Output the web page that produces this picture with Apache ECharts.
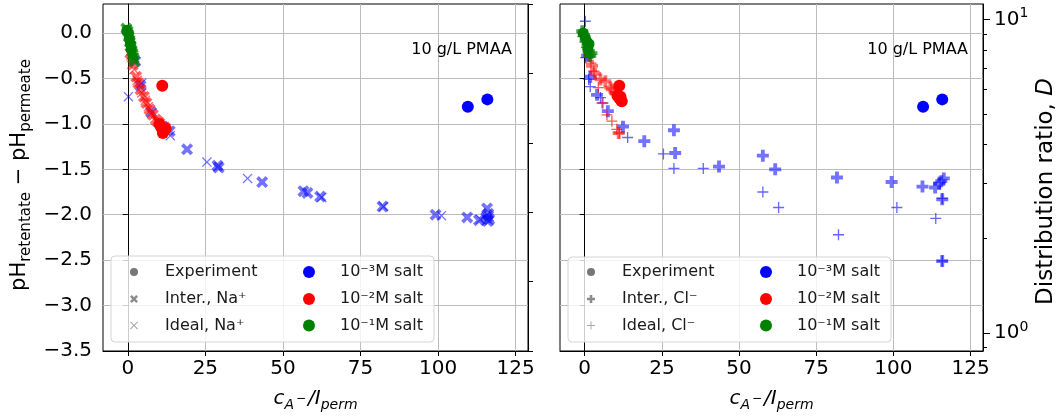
<!DOCTYPE html>
<html>
<head>
<meta charset="utf-8">
<script src="https://cdn.jsdelivr.net/npm/echarts@6/dist/echarts.min.js"></script>
<style>
  html, body { margin: 0; padding: 0; background: #fff; }
  #chart { width: 1062px; height: 417px; }
</style>
</head>
<body>
<div id="chart"></div>
<script>
// tick labels
const xTicks = [0, 25, 50, 75, 100, 125]
const yTicks = [-3.5, -3, -2.5, -2, -1.5, -1, -0.5, 0]
const dMajor = [1, 10]
const dAll = [0.9, 1, 2, 3, 4, 5, 6, 7, 8, 9, 10]

// left panel: pH difference vs c_A-/I_perm  ([x, y])
const leftExpBlue = [[109.6, -0.81], [115.9, -0.73]]
const leftInterBlue = [[2.4, -0.31], [4.1, -0.58], [7.5, -0.87], [11.3, -1.03], [13.5, -1.08], [19.1, -1.28], [28.9, -1.46], [29.3, -1.48], [43.3, -1.64], [56.6, -1.74], [57.9, -1.76], [62.0, -1.80], [82.1, -1.91], [99.2, -2.0], [109.4, -2.03], [113.2, -2.06], [115.8, -1.93], [116.2, -1.99], [115.5, -2.03], [116.5, -2.05], [116.0, -2.07]]
const leftIdealBlue = [[0.2, -0.70], [4.5, -0.55], [13.7, -1.13], [25.5, -1.42], [38.6, -1.60], [62.5, -1.81], [82.4, -1.91], [101.1, -2.01], [113.7, -2.05], [116.5, -2.02]]
const leftExpRed = [[11.1, -0.58], [10.2, -1.0], [10.8, -1.04], [11.5, -1.07], [12.2, -1.05], [11.3, -1.1]]
const leftInterRed = [[0.8, -0.22], [1.6, -0.35], [2.7, -0.48], [3.4, -0.55], [4.1, -0.62], [5.2, -0.70], [6.0, -0.77], [7.0, -0.84], [8.1, -0.90], [9.2, -0.96], [10.2, -0.99], [11.9, -1.04]]
const leftIdealRed = [[1.0, -0.25], [2.0, -0.40], [3.0, -0.52], [4.5, -0.66], [5.6, -0.74], [6.6, -0.81], [7.6, -0.88], [8.7, -0.94], [9.7, -0.98], [10.8, -1.02], [12.3, -1.08]]
const leftExpGreen = [[-0.3, 0.03], [0.2, 0.0], [0.5, -0.06], [0.8, -0.12], [1.1, -0.18]]
const leftInterGreen = [[-0.5, 0.05], [0, 0.02], [0.3, -0.04], [0.7, -0.10], [1.0, -0.15], [1.3, -0.2], [1.6, -0.24], [1.9, -0.28], [2.1, -0.31]]
const leftIdealGreen = [[-0.2, 0.04], [0.4, -0.02], [0.9, -0.08], [1.2, -0.14], [1.5, -0.19], [1.8, -0.23], [2.0, -0.27]]

// right panel
const rightExpBlue = [[109.6, -0.81], [115.8, -0.73]]
const rightInterBlue = [[0.8, -0.25], [1.8, -0.48], [4.0, -0.68], [7.5, -0.86], [12.4, -1.03], [19.3, -1.19], [28.9, -1.07], [29.3, -1.32], [43.5, -1.47], [57.7, -1.35], [61.7, -1.50], [81.7, -1.59], [99.4, -1.64], [109.4, -1.69], [113.5, -1.70], [114.8, -1.66], [115.5, -1.63], [116.3, -1.60], [115.8, -1.83], [115.8, -2.51]]
const rightIdealBlue = [[0.2, 0.13], [0.3, -0.27], [1.3, -0.51], [1.8, -0.59], [5.1, -0.71], [5.9, -0.77], [13.9, -1.15], [25.5, -1.33], [28.9, -1.49], [38.4, -1.49], [57.7, -1.75], [62.8, -1.92], [82.2, -2.22], [101.1, -1.92], [113.7, -2.04], [115.8, -1.82], [115.8, -2.51]]
const rightExpRed = [[11.2, -0.58], [10.6, -0.69], [11.3, -0.72], [12.0, -0.75], [11.6, -0.70]]
const rightInterRed = [[1.4, -0.25], [2.4, -0.36], [3.4, -0.45], [5.1, -0.51], [6.7, -0.53], [8.3, -0.60], [8.8, -0.62], [9.9, -0.66], [11.0, -1.10]]
const rightIdealRed = [[2.0, -0.33], [3.0, -0.42], [4.4, -0.60], [5.6, -0.77], [7.2, -0.90], [8.8, -0.97], [10.4, -1.06], [11.2, -1.10]]
const rightExpGreen = [[-0.5, 0.0], [0.2, -0.05], [0.8, -0.1], [1.4, -0.12], [1.0, -0.18]]
const rightInterGreen = [[-0.8, 0.02], [-0.3, -0.02], [0.3, -0.08], [0.9, -0.14], [1.4, -0.2], [1.8, -0.25], [2.2, -0.22]]
const rightIdealGreen = [[-0.6, -0.04], [0.1, -0.1], [0.6, -0.16], [1.1, -0.22], [1.6, -0.26]]

const font = 'DejaVu Sans'
const BLUE = '#0000ff'
const RED = '#ff0000'
const GREEN = '#008000'
const GRID = '#bcbcbc'

// marker outlines in a 10x10 box (matplotlib X, x, P, +)
const thickX = [[0, 2.2], [2.2, 0], [5, 2.8], [7.8, 0], [10, 2.2], [7.2, 5], [10, 7.8], [7.8, 10], [5, 7.2], [2.2, 10], [0, 7.8], [2.8, 5]]
const thinX = [[0, 0.9], [0.9, 0], [5, 4.1], [9.1, 0], [10, 0.9], [5.9, 5], [10, 9.1], [9.1, 10], [5, 5.9], [0.9, 10], [0, 9.1], [4.1, 5]]
const thickP = [[3.4, 0], [6.6, 0], [6.6, 3.4], [10, 3.4], [10, 6.6], [6.6, 6.6], [6.6, 10], [3.4, 10], [3.4, 6.6], [0, 6.6], [0, 3.4], [3.4, 3.4]]
const thinP = [[4.4, 0], [5.6, 0], [5.6, 4.4], [10, 4.4], [10, 5.6], [5.6, 5.6], [5.6, 10], [4.4, 10], [4.4, 5.6], [0, 5.6], [0, 4.4], [4.4, 4.4]]

const toSymbol = (pts) => 'path://M' + pts.map((p) => p[0] + ',' + p[1]).join(' L') + ' Z'

const scatter = (data, xIndex, yIndex, symbol, size, color, opacity) => ({
  type: 'scatter',
  xAxisIndex: xIndex,
  yAxisIndex: yIndex,
  data,
  symbol,
  symbolSize: size,
  itemStyle: { color, opacity },
  silent: true,
})

const fmtY = (v) => (v === 0 ? '0.0' : v.toFixed(1).replace('-', '\u2212'))

const xAxisOf = (gridIndex) => ({
  type: 'value',
  gridIndex,
  min: -8,
  max: 129,
  axisLine: { show: true, onZero: false, lineStyle: { color: '#000', width: 1 } },
  axisTick: { show: true, length: 5, customValues: xTicks, lineStyle: { color: '#000' } },
  axisLabel: { customValues: xTicks, fontSize: 20, color: '#000', fontFamily: font, margin: 8 },
  splitLine: { show: true, lineStyle: { color: GRID, width: 1 } },
  name: '{i|c}{s|A}{t|\u2212}{i|/I}{s|perm}',
  nameLocation: 'middle',
  nameGap: 35,
  nameTextStyle: {
    color: '#000',
    fontFamily: font,
    rich: {
      i: { fontSize: 20, fontStyle: 'italic', fontFamily: font, lineHeight: 26, color: '#000' },
      s: { fontSize: 14, fontStyle: 'italic', fontFamily: font, lineHeight: 12, verticalAlign: 'bottom', color: '#000' },
      t: { fontSize: 12, fontFamily: font, lineHeight: 26, color: '#000', padding: [0, 2, 0, 2] },
    },
  },
})

const option = {
  animation: false,
  backgroundColor: '#fff',
  grid: [
    { left: 103, top: 4, width: 425, height: 347, show: true, borderColor: '#000', borderWidth: 1 },
    { left: 560, top: 4, width: 423, height: 347, show: true, borderColor: '#000', borderWidth: 1 },
  ],
  xAxis: [xAxisOf(0), xAxisOf(1)],
  yAxis: [
    {
      type: 'value',
      gridIndex: 0,
      min: -3.5,
      max: 0.32,
      position: 'left',
      axisLine: { show: true, lineStyle: { color: '#000' } },
      axisTick: { show: true, length: 5, customValues: yTicks, lineStyle: { color: '#000' } },
      axisLabel: { customValues: yTicks, formatter: fmtY, fontSize: 20, color: '#000', fontFamily: font, margin: 11 },
      splitLine: { show: true, lineStyle: { color: GRID, width: 1 } },
      name: '{m|pH}{s|retentate}{m| \u2212 pH}{s|permeate}',
      nameLocation: 'middle',
      nameGap: 69,
      nameTextStyle: {
        color: '#000',
        padding: [0, 0, 0, 5],
        rich: {
          m: { fontSize: 21, fontFamily: font, lineHeight: 28, color: '#000' },
          s: { fontSize: 15, fontFamily: font, lineHeight: 12, verticalAlign: 'bottom', color: '#000' },
        },
      },
    },
    {
      // twin axis of the left panel, ticks only
      type: 'value',
      gridIndex: 0,
      min: 0,
      max: 5,
      interval: 1,
      position: 'right',
      axisLine: { show: true, lineStyle: { color: '#000' } },
      axisTick: { show: true, length: 5, lineStyle: { color: '#000' } },
      axisLabel: { show: false },
      splitLine: { show: false },
    },
    {
      type: 'value',
      gridIndex: 1,
      min: -3.5,
      max: 0.32,
      position: 'left',
      axisLine: { show: true, lineStyle: { color: '#000' } },
      axisTick: { show: true, length: 5, customValues: yTicks, lineStyle: { color: '#000' } },
      axisLabel: { show: false, customValues: yTicks },
      splitLine: { show: true, lineStyle: { color: GRID, width: 1 } },
    },
    {
      type: 'log',
      gridIndex: 1,
      min: 0.877,
      max: 11.2,
      position: 'right',
      axisLine: { show: true, lineStyle: { color: '#000' } },
      axisTick: { show: true, length: 4, customValues: dAll, lineStyle: { color: '#000' } },
      axisLabel: {
        customValues: dMajor,
        margin: 11,
        formatter: (v) => '{b|10}{p|' + (v >= 5 ? '1' : '0') + '}',
        rich: {
          b: { fontSize: 20, fontFamily: font, lineHeight: 26, color: '#000' },
          p: { fontSize: 14, fontFamily: font, lineHeight: 14, verticalAlign: 'top', color: '#000' },
        },
      },
      splitLine: { show: false },
      name: '{n|Distribution ratio, }{d|D}',
      nameLocation: 'middle',
      nameRotate: 90,
      nameGap: 52,
      nameTextStyle: {
        padding: [0, 28, 0, 0],
        rich: {
          n: { fontSize: 23, fontFamily: font, color: '#000' },
          d: { fontSize: 23, fontFamily: font, fontStyle: 'italic', color: '#000' },
        },
      },
    },
    {
      type: 'log',
      gridIndex: 1,
      min: 0.877,
      max: 11.2,
      position: 'right',
      axisLine: { show: false },
      axisTick: { show: true, length: 7, customValues: dMajor, lineStyle: { color: '#000' } },
      axisLabel: { show: false, customValues: dMajor },
      splitLine: { show: false },
    },
  ],
  series: [
    scatter(leftIdealBlue, 0, 0, toSymbol(thinX), 10, BLUE, 0.55),
    scatter(leftInterBlue, 0, 0, toSymbol(thickX), 12, BLUE, 0.55),
    scatter(leftExpBlue, 0, 0, 'circle', 12, BLUE, 1),
    scatter(leftIdealRed, 0, 0, toSymbol(thinX), 10, RED, 0.6),
    scatter(leftInterRed, 0, 0, toSymbol(thickX), 12, RED, 0.6),
    scatter(leftExpRed, 0, 0, 'circle', 12, RED, 1),
    scatter(leftIdealGreen, 0, 0, toSymbol(thinX), 10, GREEN, 0.7),
    scatter(leftInterGreen, 0, 0, toSymbol(thickX), 12, GREEN, 0.7),
    scatter(leftExpGreen, 0, 0, 'circle', 11, GREEN, 1),

    scatter(rightIdealBlue, 1, 2, toSymbol(thinP), 11, BLUE, 0.6),
    scatter(rightInterBlue, 1, 2, toSymbol(thickP), 12, BLUE, 0.55),
    scatter(rightExpBlue, 1, 2, 'circle', 12, BLUE, 1),
    scatter(rightIdealRed, 1, 2, toSymbol(thinP), 11, RED, 0.65),
    scatter(rightInterRed, 1, 2, toSymbol(thickP), 12, RED, 0.55),
    scatter(rightExpRed, 1, 2, 'circle', 12, RED, 1),
    scatter(rightIdealGreen, 1, 2, toSymbol(thinP), 11, GREEN, 0.7),
    scatter(rightInterGreen, 1, 2, toSymbol(thickP), 12, GREEN, 0.7),
    scatter(rightExpGreen, 1, 2, 'circle', 11, GREEN, 1),
  ],
}

// annotation text + the two legends
const legendBox = (x, y, w, h, rows) => {
  const els = [{
    type: 'rect',
    shape: { x, y, width: w, height: h, r: 4 },
    style: { fill: 'rgba(255,255,255,0.8)', stroke: '#d4d4d4', lineWidth: 1 },
    z: 100,
  }]
  rows.forEach((r) => {
    if (r.pts) {
      const s = r.ms / 10
      els.push({
        type: 'polygon',
        shape: { points: r.pts.map((p) => [r.mx - r.ms / 2 + p[0] * s, r.my - r.ms / 2 + p[1] * s]) },
        style: { fill: r.color },
        z: 101,
      })
    } else {
      els.push({
        type: 'circle',
        shape: { cx: r.mx, cy: r.my, r: r.ms / 2 },
        style: { fill: r.color },
        z: 101,
      })
    }
    els.push({
      type: 'text',
      style: { text: r.text, x: r.tx, y: r.my, textVerticalAlign: 'middle', font: '16px "DejaVu Sans"', fill: '#1a1a1a' },
      z: 101,
    })
  })
  return els
}

const legendRows = (x0, inter, ideal, interPts, idealPts) => {
  const ys = [272, 299, 325.5]
  const c1 = x0 + 23
  const t1 = x0 + 54
  const c2 = x0 + 198
  const t2 = x0 + 229
  return [
    { mx: c1, my: ys[0], ms: 8, color: '#777', text: 'Experiment', tx: t1 },
    { mx: c1, my: ys[1], ms: 8, color: 'rgba(110,110,110,0.8)', pts: interPts, text: inter, tx: t1 },
    { mx: c1, my: ys[2], ms: 8, color: 'rgba(130,130,130,0.7)', pts: idealPts, text: ideal, tx: t1 },
    { mx: c2, my: ys[0], ms: 12, color: BLUE, text: '10\u207B\u00B3M salt', tx: t2 },
    { mx: c2, my: ys[1], ms: 12, color: RED, text: '10\u207B\u00B2M salt', tx: t2 },
    { mx: c2, my: ys[2], ms: 12, color: GREEN, text: '10\u207B\u00B9M salt', tx: t2 },
  ]
}

option.graphic = [
  {
    type: 'text',
    style: { text: '10 g/L PMAA', x: 512, y: 50, textAlign: 'right', textVerticalAlign: 'middle', font: '16px "DejaVu Sans"', fill: '#000' },
    z: 100,
  },
  {
    type: 'text',
    style: { text: '10 g/L PMAA', x: 968, y: 50, textAlign: 'right', textVerticalAlign: 'middle', font: '16px "DejaVu Sans"', fill: '#000' },
    z: 100,
  },
  ...legendBox(111, 256, 323, 86, legendRows(111, 'Inter., Na\u207A', 'Ideal, Na\u207A', thickX, thinX)),
  ...legendBox(568, 257, 323, 85, legendRows(568, 'Inter., Cl\u207B', 'Ideal, Cl\u207B', thickP, thinP)),
]

const chart = echarts.init(document.getElementById('chart'))
chart.setOption(option)
</script>
</body>
</html>
